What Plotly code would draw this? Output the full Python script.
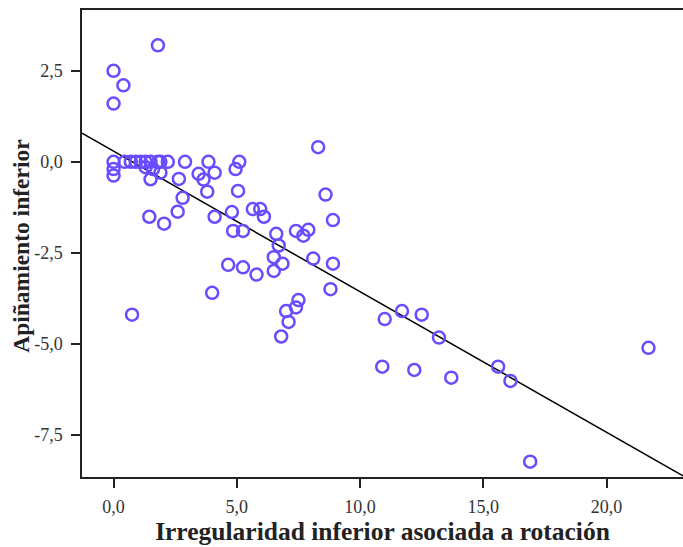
import numpy as np
import plotly.graph_objects as go

# Irregularidad inferior asociada a rotación (x) vs. Apiñamiento inferior (y)
irregularidad = [
    1.8, 0.0, 0.4, 0.0, 8.3,
    0.0, 0.45, 0.7, 0.9, 1.1, 1.3, 1.5, 1.8, 1.9, 2.2, 2.9, 3.85, 5.1,
    0.0, 0.0, 1.3, 1.6, 1.9, 1.5, 2.65, 3.45, 3.65, 4.1, 4.95,
    3.8, 5.05, 2.8, 8.6, 1.45, 2.05, 2.6, 4.1, 4.8, 5.65, 5.95, 6.1, 8.9,
    4.85, 5.25, 6.6, 7.4, 7.7, 7.9, 6.7, 6.5, 6.85, 6.5,
    4.65, 5.25, 5.8, 8.1, 8.9, 8.8, 4.0, 0.75,
    7.5, 7.4, 7.0, 7.1, 6.8,
    11.0, 11.7, 12.5, 13.2, 10.9, 12.2, 13.7, 15.6, 16.1, 21.7, 16.9,
]
apinamiento = [
    3.2, 2.5, 2.1, 1.6, 0.4,
    0.0, 0.0, 0.0, 0.0, 0.0, 0.0, 0.0, 0.0, 0.0, 0.0, 0.0, 0.0, 0.0,
    -0.2, -0.38, -0.15, -0.2, -0.3, -0.48, -0.47, -0.33, -0.49, -0.3, -0.2,
    -0.82, -0.8, -0.99, -0.9, -1.51, -1.7, -1.37, -1.51, -1.38, -1.3, -1.3, -1.51, -1.6,
    -1.9, -1.9, -1.98, -1.9, -2.03, -1.87, -2.3, -2.62, -2.8, -3.0,
    -2.83, -2.9, -3.1, -2.66, -2.8, -3.5, -3.6, -4.2,
    -3.8, -4.0, -4.1, -4.4, -4.8,
    -4.32, -4.1, -4.2, -4.83, -5.63, -5.72, -5.93, -5.63, -6.02, -5.11, -8.24,
]

# Fitted regression line
intercepto = 0.29
pendiente = -0.386

x_ticks = [0, 5, 10, 15, 20]
x_tick_labels = ["0,0", "5,0", "10,0", "15,0", "20,0"]
y_ticks = [2.5, 0, -2.5, -5, -7.5]
y_tick_labels = ["2,5", "0,0", "-2,5", "-5,0", "-7,5"]

x_range = [-1.28, 23.1]
y_range = [-8.66, 4.17]

line_x = np.array(x_range)
line_y = intercepto + pendiente * line_x

fig = go.Figure()
fig.add_trace(go.Scatter(
    x=line_x, y=line_y, mode="lines",
    line=dict(color="black", width=1.5),
    hoverinfo="skip", showlegend=False,
))
fig.add_trace(go.Scatter(
    x=irregularidad, y=apinamiento, mode="markers",
    marker=dict(symbol="circle-open", size=12, color="#6a4cff",
                line=dict(width=2.5, color="#6a4cff")),
    showlegend=False,
))

font_family = "Liberation Serif, Times New Roman, serif"
axis_common = dict(
    showgrid=False, zeroline=False, showline=True, linecolor="#222",
    linewidth=1.5, ticks="outside", ticklen=9, tickwidth=1.5,
    tickcolor="#222", tickfont=dict(family=font_family, size=18, color="#333"),
)

fig.update_layout(
    width=683, height=547,
    margin=dict(l=82, r=0, t=10, b=70),
    paper_bgcolor="white", plot_bgcolor="white",
    font=dict(family=font_family, color="#222"),
    xaxis=dict(
        range=x_range, tickvals=x_ticks, ticktext=x_tick_labels,
        mirror=True, ticklabelstandoff=4,
        title=dict(text="<b>Irregularidad inferior asociada a rotación</b>",
                   font=dict(family=font_family, size=25.5, color="#222"),
                   standoff=6),
        **axis_common,
    ),
    yaxis=dict(
        range=y_range, tickvals=y_ticks, ticktext=y_tick_labels,
        mirror=False, ticklabelstandoff=5,
        **axis_common,
    ),
    annotations=[dict(
        text="<b>Apiñamiento inferior</b>", textangle=-90,
        xref="paper", yref="paper", x=-0.1015, y=0.495,
        xanchor="center", yanchor="middle", showarrow=False,
        font=dict(family=font_family, size=23.5, color="#222"),
    )],
)

fig.write_html("out.html")
